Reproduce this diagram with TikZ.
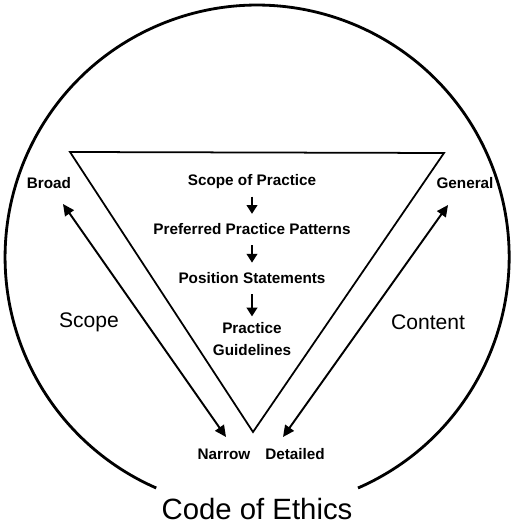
\documentclass[tikz,border=0pt]{standalone}
\usepackage{fontspec}
\setmainfont{Liberation Sans}
\usepackage{tikz}
\usetikzlibrary{arrows.meta,positioning}

\begin{document}
\begin{tikzpicture}[x=0.02cm,y=0.02cm,>={Triangle[length=6.5pt,width=6pt]},
  lbl/.style={inner sep=1pt,font=\fontsize{8.7}{13}\selectfont\bfseries,align=center},
  level/.style={lbl,text height=1.6ex,text depth=0.4ex},
  side/.style={inner sep=1pt,font=\fontsize{12}{14}\selectfont},
  step arrow/.style={->,line width=1.2pt,shorten <=3pt,shorten >=2pt,
    >={Triangle[length=5pt,width=6pt]}},
  span arrow/.style={<->,line width=1.1pt}]
\useasboundingbox (0,0) rectangle (512,524);
% outer circle, open at the bottom for the title
\draw[line width=1.6pt] (358,36) arc[start angle=-66.4,end angle=246.4,radius=252];
% inverted triangle
\draw[line width=1pt,line join=miter] (70,372) -- (444,371) -- (253,92) -- cycle;
% hierarchy inside the triangle
\node[level] (sop) at (252,344) {Scope of Practice};
\node[level,below=5.2mm of sop] (ppp) {Preferred Practice Patterns};
\node[level,below=5.2mm of ppp] (pos) {Position Statements};
\node[lbl,below=6.2mm of pos] (pg) {Practice\\ Guidelines};
\draw[step arrow] (sop) -- (ppp);
\draw[step arrow] (ppp) -- (pos);
\draw[step arrow] (pos) -- (pg);
% scope and content ranges
\node[lbl] (broad) at (49,341) {Broad};
\node[lbl] (narrow) at (224,70) {Narrow};
\node[lbl] (general) at (465,341) {General};
\node[lbl] (detailed) at (295,70) {Detailed};
\coordinate (b) at (63,320);
\coordinate (n) at (226,87);
\coordinate (g) at (448,319);
\coordinate (d) at (283,87);
\draw[span arrow] (b) -- (n);
\draw[span arrow] (g) -- (d);
\node[side] (scope) at (89,202) {Scope};
\node[side] (content) at (428,202) {Content};
\node[font=\fontsize{16.7}{18}\selectfont,anchor=base,inner sep=0pt] (ethics) at (257,5) {Code of Ethics};
\end{tikzpicture}
\end{document}
